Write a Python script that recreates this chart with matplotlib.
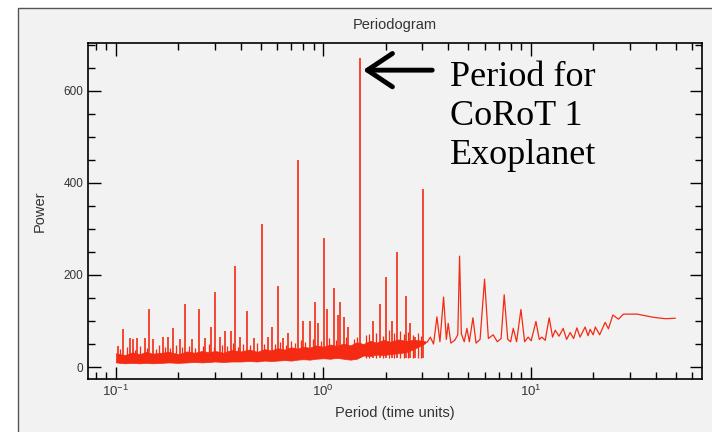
import matplotlib
matplotlib.use("Agg")
import matplotlib.pyplot as plt
from matplotlib.patches import Rectangle
from matplotlib.ticker import MultipleLocator

# spikes (period, peak power)
spike_period = [0.102, 0.108, 0.1165, 0.121, 0.1265, 0.1377, 0.144, 0.151, 0.169, 0.1785,
                0.1887, 0.2046, 0.216, 0.233, 0.2526, 0.27, 0.2876, 0.3016, 0.3164, 0.3344,
                0.359, 0.3767, 0.398, 0.4287, 0.4614, 0.5064, 0.543, 0.5678, 0.6047, 0.6415,
                0.676, 0.755, 0.798, 0.866, 0.915, 0.943, 1.003, 1.042, 1.121, 1.181,
                1.208, 1.262, 1.32, 1.509, 1.742, 1.883, 2.012, 2.143, 2.265, 2.512,
                2.626, 2.776, 3.018]
spike_power = [46, 82, 62, 60, 62, 64, 125, 60, 65, 66,
               84, 60, 138, 60, 125, 62, 88, 164, 65, 79,
               79, 220, 65, 122, 62, 310, 65, 88, 175, 62,
               74, 450, 99, 101, 142, 95, 280, 127, 171, 113,
               142, 109, 88, 671, 99, 138, 196, 101, 249, 154,
               95, 65, 386]

# smaller noise spikes sticking out of the floor
noise_period = [0.105, 0.113, 0.124, 0.131, 0.141, 0.156, 0.161, 0.173, 0.183, 0.195,
                0.208, 0.224, 0.241, 0.262, 0.281, 0.296, 0.325, 0.345, 0.368, 0.388,
                0.41, 0.445, 0.48, 0.52, 0.585, 0.62, 0.66, 0.7, 0.73, 0.78,
                0.82, 0.89, 0.97, 1.07, 1.15, 1.29, 1.4, 1.45, 1.6, 1.66,
                1.8, 1.95, 2.07, 2.2, 2.35, 2.45, 2.57, 2.7, 2.86, 2.95]
noise_power = [40, 44, 38, 45, 42, 40, 47, 43, 41, 48,
               44, 46, 42, 45, 50, 43, 48, 46, 52, 44,
               50, 47, 53, 49, 51, 55, 48, 57, 52, 58,
               54, 60, 56, 62, 58, 65, 60, 66, 70, 72,
               75, 68, 80, 74, 78, 72, 76, 70, 74, 68]

# dense noise floor at short periods (lower / upper edge)
band_period = [0.1, 0.11, 0.12, 0.13, 0.14, 0.15, 0.165, 0.18, 0.2, 0.22, 0.24, 0.26, 0.28, 0.3,
               0.33, 0.36, 0.4, 0.44, 0.48, 0.52, 0.56, 0.6, 0.65, 0.7, 0.75, 0.8, 0.86, 0.92,
               1.0, 1.08, 1.16, 1.25, 1.35, 1.45, 1.56, 1.68, 1.8, 1.95, 2.1, 2.3, 2.5, 2.7,
               2.9, 3.1]
band_low = [10, 8, 9, 8, 9, 8, 9, 10, 9, 10, 11, 10, 11, 12,
            11, 12, 12, 13, 12, 14, 13, 14, 15, 14, 16, 17, 16, 18,
            19, 18, 20, 18, 16, 18, 25, 24, 27, 26, 28, 30, 32, 38,
            45, 52]
band_high = [30, 26, 32, 28, 33, 29, 31, 33, 28, 34, 31, 35, 32, 35,
             31, 37, 34, 38, 33, 39, 36, 41, 38, 43, 40, 44, 42, 47,
             44, 49, 46, 51, 47, 54, 50, 57, 53, 59, 55, 60, 57, 59,
             58, 56]

# sparse part at long periods
tail_period = [3.1, 3.18, 3.28, 3.4, 3.53, 3.65, 3.8, 3.92, 4.0, 4.12,
               4.3, 4.45, 4.54, 4.63, 4.78, 4.925, 5.06, 5.265, 5.45, 5.7,
               5.99, 6.25, 6.59, 6.9, 7.2, 7.45, 7.75, 8.0, 8.24, 8.55,
               8.97, 9.35, 9.72, 10.05, 10.6, 11.0, 11.32, 11.75, 12.28, 12.75,
               13.13, 13.7, 14.34, 14.9, 15.5, 16.1, 16.7, 17.3, 18.3, 18.9,
               19.35, 20.0, 20.5, 21.5, 22.86, 23.7, 24.9, 26.5, 28.0, 32.5,
               39.1, 44.5, 49.7]
tail_power = [52, 55, 65, 50, 109, 55, 152, 60, 95, 52,
              58, 70, 241, 72, 55, 84, 55, 107, 52, 60,
              191, 62, 70, 55, 62, 157, 60, 55, 84, 55,
              125, 55, 65, 57, 99, 60, 65, 58, 107, 65,
              80, 67, 84, 60, 75, 62, 85, 65, 87, 68,
              82, 70, 87, 70, 97, 83, 113, 104, 115, 115,
              108, 105, 106]

planet_period = 1.509
arrow_tail = 3.35

red = "#f42a12"
bg = "#f2f2f2"

plt.rcParams["font.family"] = ["Liberation Sans", "DejaVu Sans"]
plt.rcParams["mathtext.default"] = "regular"

fig = plt.figure(figsize=(7.12, 4.32), dpi=100)
fig.patch.set_facecolor("white")
fig.patches.append(Rectangle((18 / 712, -0.01), 1.0, 1 - 8 / 432 + 0.01, transform=fig.transFigure,
                             facecolor=bg, edgecolor="#555555", linewidth=1.0, zorder=-10))

ax = fig.add_axes([88 / 712, 53 / 432, 614 / 712, 336 / 432])
ax.set_facecolor(bg)

ax.fill_between(band_period, band_low, band_high, color=red, linewidth=0.5, zorder=2)
ax.vlines(noise_period, 20, noise_power, color=red, linewidth=0.9, zorder=3)
ax.vlines(spike_period, 20, spike_power, color=red, linewidth=1.2, zorder=3)
ax.plot(tail_period, tail_power, color=red, linewidth=0.9, zorder=3)

ax.set_xscale("log")
ax.set_xlim(0.0733, 67)
ax.set_ylim(-26, 704)
ax.yaxis.set_major_locator(MultipleLocator(200))
ax.yaxis.set_minor_locator(MultipleLocator(50))

ax.tick_params(which="both", direction="in", top=True, right=True, colors="black",
               labelcolor="#333333", width=1.0)
ax.tick_params(axis="y", labelsize=8.5)
ax.tick_params(axis="x", labelsize=9.5)
ax.tick_params(which="major", length=9)
ax.tick_params(which="minor", length=5)
for s in ax.spines.values():
    s.set_linewidth(1.2)

ax.set_title("Periodogram", fontsize=10.5, color="#333333", pad=10)
ax.set_xlabel("Period (time units)", fontsize=10.5, color="#333333", labelpad=5)
ax.set_ylabel("Power", fontsize=10.5, color="#333333", labelpad=12)

fig.text(450 / 712, 1 - 164 / 432, "Period for\nCoRoT 1\nExoplanet",
         fontsize=26, family="Liberation Serif", color="black", linespacing=1.25,
         ha="left", va="baseline")
ax.annotate("", xy=(planet_period * 1.03, 645), xytext=(arrow_tail, 645),
            arrowprops=dict(arrowstyle="->,head_length=0.9,head_width=0.6", lw=3.5,
                            color="black", mutation_scale=20, shrinkA=0, shrinkB=0))

fig.savefig("out.png", dpi=100)
